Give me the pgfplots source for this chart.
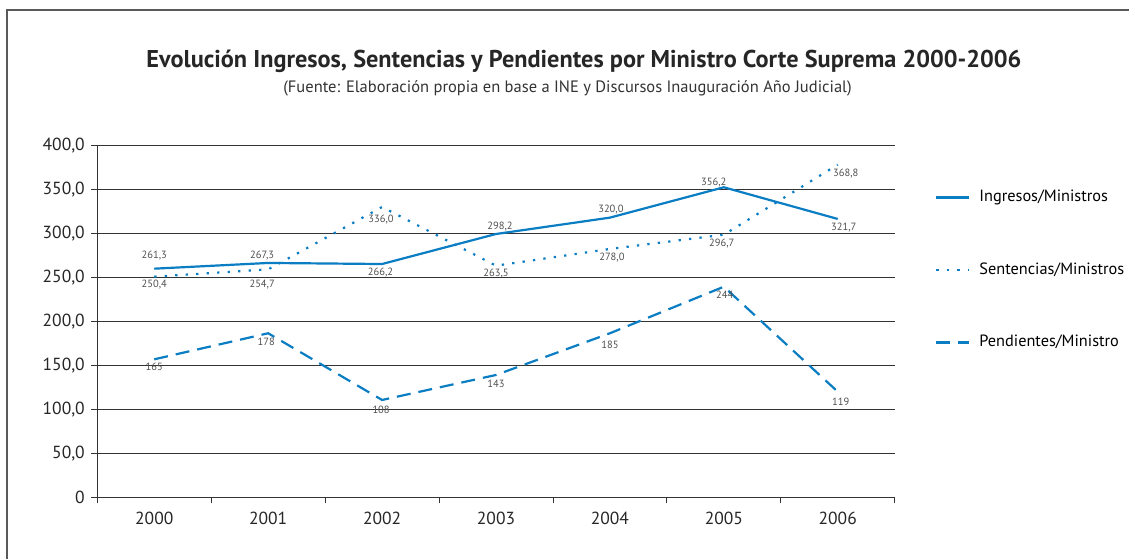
\documentclass[border=0pt]{standalone}
\usepackage{fontspec}
\setmainfont{PT Sans}
\usepackage{pgfplots}
\usepackage{pgfplotstable}
\pgfplotsset{compat=1.18}
\definecolor{serie}{HTML}{0A7DC3}
\definecolor{etiq}{HTML}{505050}
\definecolor{ejes}{HTML}{333333}

% x y etiqueta dx dy (desplazamiento de la etiqueta, en pt)
\pgfplotstableread{
x y lab dx dy
0 259.8 261,3 0 13
1 266.3 267,3 -6 7.5
2 265.1 266,2 -1.5 -8.7
3 299.2 298,2 4 7.3
4 317.8 320,0 1 7.7
5 352.3 356,2 -10 5
6 316.3 321,7 6 -8.3
}\ingresos
\pgfplotstableread{
x y lab dx dy
0 250.7 250,4 0 -7.7
1 259.0 254,7 -6 -15
2 329.9 336,0 -1 -12.3
3 263.2 263,5 0 -7.7
4 282.2 278,0 2 -8.3
5 298.4 296,7 -2 -8.7
6 378.0 368,8 8 -9.3
}\sentencias
\pgfplotstableread{
x y lab dx dy
0 156.8 165 0 -7.3
1 186.4 178 -2 -8.3
2 110.6 108 -1 -9.7
3 139.0 143 0 -9
4 186.4 185 0 -11.7
5 239.3 244 1 -8.3
6 120.0 119 3 -10.6
}\pendientes

% 1 unidad x = 113.9pt, 1 unidad y = 0.88pt
\pgfplotsset{etiquetas/.style={draw=none, forget plot, nodes near coords,
  point meta=explicit symbolic,
  every node near coord/.append style={anchor=center,
    font=\fontsize{10.5}{12}\selectfont, text=etiq, inner sep=0pt}}}

\begin{document}
\begin{tikzpicture}
\path[use as bounding box] (0,0) rectangle (1129pt,559pt);
\draw[black!65, line width=1.5pt] (7pt,0pt) -- (7pt,549pt) -- (1129pt,549pt);
\node[anchor=base, font=\bfseries\fontsize{24.3}{29}\selectfont, text=black!85]
  at (584pt,491pt) {Evolución Ingresos, Sentencias y Pendientes por Ministro Corte Suprema 2000-2006};
\node[anchor=base, font=\fontsize{16.5}{19}\selectfont, text=black!80]
  at (567.5pt,466.3pt) {(Fuente: Elaboración propia en base a INE y Discursos Inauguración Año Judicial)};

\begin{axis}[
  at={(97.3pt,61.7pt)}, anchor=south west,
  width=797.4pt, height=352pt, scale only axis,
  xmin=-0.5, xmax=6.5, ymin=0, ymax=400,
  clip=false,
  axis x line=bottom, axis y line=left,
  axis line style={-, ejes, line width=0.8pt},
  xtick={-0.5,0.5,...,6.5},
  x tick label as interval,
  xticklabels={2000,2001,2002,2003,2004,2005,2006},
  ytick={0,50,...,400},
  yticklabels={0,{50,0},{100,0},{150,0},{200,0},{250,0},{300,0},{350,0},{400,0}},
  tick align=outside, major tick length=6pt,
  tick style={ejes, line width=0.8pt},
  ymajorgrids, grid style={ejes, line width=0.8pt},
  ticklabel style={font=\fontsize{17.5}{20}\selectfont, text=black!85},
  yticklabel style={xshift=-3pt},
  xticklabel style={yshift=-5pt},
  legend style={at={(1,1)}, anchor=north west, xshift=40.3pt, yshift=-44pt,
    draw=none, fill=none, inner sep=0pt, row sep=56.5pt,
    font=\fontsize{16.3}{19}\selectfont,
    nodes={inner sep=0pt, text height=12pt, text depth=4pt, anchor=west},
    /tikz/every odd column/.append style={column sep=9pt}},
  legend cell align=left,
  legend image code/.code={\draw[#1] (0pt,0pt) -- (33pt,0pt);},
]
\addplot[serie, line width=2.2pt] table[x=x, y=y] {\ingresos};
\addlegendentry{Ingresos/Ministros}
\addplot[serie, line width=2.2pt, dash pattern=on 2.3pt off 8.2pt] table[x=x, y=y] {\sentencias};
\addlegendentry{Sentencias/Ministros}
\addplot[serie, line width=2.2pt, dash pattern=on 14pt off 8pt] table[x=x, y=y] {\pendientes};
\addlegendentry{Pendientes/Ministro}

\addplot[etiquetas] table[x expr=\thisrow{x}+\thisrow{dx}/113.9, y expr=\thisrow{y}+\thisrow{dy}/0.88, meta=lab] {\ingresos};
\addplot[etiquetas] table[x expr=\thisrow{x}+\thisrow{dx}/113.9, y expr=\thisrow{y}+\thisrow{dy}/0.88, meta=lab] {\sentencias};
\addplot[etiquetas] table[x expr=\thisrow{x}+\thisrow{dx}/113.9, y expr=\thisrow{y}+\thisrow{dy}/0.88, meta=lab] {\pendientes};
\end{axis}
\end{tikzpicture}
\end{document}
